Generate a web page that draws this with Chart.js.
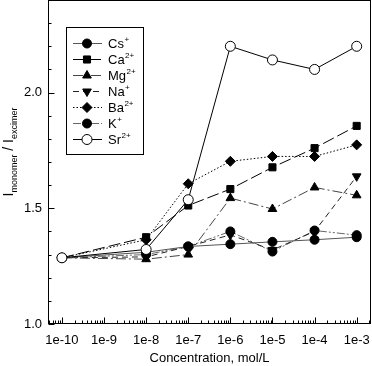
<!DOCTYPE html>
<html>
<head>
<meta charset="utf-8">
<script src="https://cdn.jsdelivr.net/npm/chart.js@4"></script>
<style>
  html, body { margin: 0; padding: 0; background: #fff; }
  #wrap { width: 372px; height: 366px; }
</style>
</head>
<body>
<div id="wrap"><canvas id="chart" width="372" height="366"></canvas></div>
<script>
// concentrations (mol/L) where the ratio was measured
const concentrations = [1e-10, 1e-8, 1e-7, 1e-6, 1e-5, 1e-4, 1e-3];
const xTickValues = [1e-10, 1e-9, 1e-8, 1e-7, 1e-6, 1e-5, 1e-4, 1e-3];
const xTickLabels = ["1e-10", "1e-9", "1e-8", "1e-7", "1e-6", "1e-5", "1e-4", "1e-3"];
const yTickLabels = ["1.0", "1.5", "2.0"];

// I monomer / I excimer for each ion
const cs = [1.286, 1.31, 1.335, 1.345, 1.355, 1.364, 1.375];
const ca = [1.286, 1.375, 1.512, 1.583, 1.677, 1.760, 1.856];
const mg = [1.286, 1.28, 1.30, 1.544, 1.497, 1.59, 1.556];
const na = [1.286, 1.29, 1.335, 1.385, 1.32, 1.40, 1.638];
const ba = [1.286, 1.364, 1.606, 1.703, 1.724, 1.724, 1.774];
const k  = [1.286, 1.30, 1.335, 1.40, 1.313, 1.404, 1.384];
const sr = [1.286, 1.322, 1.537, 2.20, 2.141, 2.10, 2.20];

const ionNames = ["Cs", "Ca", "Mg", "Na", "Ba", "K", "Sr"];
const ionCharges = ["+", "2+", "2+", "+", "2+", "+", "2+"];

const FONT = "'Liberation Sans', Arial, sans-serif";

function pts(vals) {
  return concentrations.map((c, i) => ({ x: c, y: vals[i] }));
}

function ds(label, vals, style) {
  return Object.assign({
    label: label,
    data: pts(vals),
    borderWidth: 1,
    borderColor: "#000",
    pointBackgroundColor: "#000",
    pointBorderColor: "#000",
    pointBorderWidth: 1,
    pointRadius: 4,
    fill: false,
    tension: 0,
    order: 1
  }, style);
}

const datasets = [
  ds("Cs+", cs, { borderColor: "#555", pointStyle: "circle", pointRadius: 4.5 }),
  ds("Ca2+", ca, { borderDash: [12, 4], pointStyle: "rect", pointRadius: 5 }),
  ds("Mg2+", mg, { borderColor: "#444", borderDash: [10, 3, 2, 3], pointStyle: "triangle", pointRadius: 5 }),
  ds("Na+", na, { borderColor: "#222", borderDash: [6, 4], pointStyle: "triangle", pointRotation: 180, pointRadius: 5 }),
  ds("Ba2+", ba, { borderDash: [1.5, 2], pointStyle: "rectRot", pointRadius: 5 }),
  ds("K+", k, { borderColor: "#666", borderDash: [8, 2, 2, 2, 2, 2], pointStyle: "circle", pointRadius: 4.5 }),
  ds("Sr2+", sr, { pointStyle: "circle", pointBackgroundColor: "#fff", pointRadius: 5, order: 0 })
];

// frame, inward tick marks, legend and y title
const decorations = {
  id: "decorations",
  afterDraw(chart) {
    const ctx = chart.ctx;
    const a = chart.chartArea;
    const xs = chart.scales.x;
    const ys = chart.scales.y;
    ctx.save();
    ctx.strokeStyle = "#000";
    ctx.lineWidth = 1;
    ctx.setLineDash([]);
    ctx.strokeRect(Math.round(a.left) + 0.5, Math.round(a.top) + 0.5,
      Math.round(a.right - a.left) - 1, Math.round(a.bottom - a.top) - 1);

    const bottom = Math.round(a.bottom) - 0.5;
    const left = Math.round(a.left) + 0.5;
    ctx.beginPath();
    for (let e = -11; e <= -3; e++) {
      for (let m = 1; m <= 9; m++) {
        const v = m * Math.pow(10, e);
        if (v < xs.min || v > xs.max) continue;
        const px = Math.round(xs.getPixelForValue(v)) + 0.5;
        const len = m === 1 ? 6 : 3;
        ctx.moveTo(px, bottom);
        ctx.lineTo(px, bottom - len);
      }
    }
    for (let i = 0; i <= 14; i++) {
      const v = 1 + i * 0.1;
      if (v > ys.max + 1e-9) continue;
      const py = Math.round(ys.getPixelForValue(v)) + 0.5;
      const len = i % 5 === 0 ? 6 : 3;
      ctx.moveTo(left, py);
      ctx.lineTo(left + len, py);
    }
    ctx.stroke();

    // legend
    const bx = 66.5, by = 27.5, bw = 77, bh = 127;
    ctx.fillStyle = "#fff";
    ctx.fillRect(bx, by, bw, bh);
    ctx.strokeRect(bx, by, bw, bh);
    chart.data.datasets.forEach((d, i) => {
      const y = 43.5 + i * 16;
      ctx.save();
      ctx.strokeStyle = d.borderColor;
      ctx.lineWidth = 1;
      ctx.setLineDash(d.borderDash || []);
      ctx.beginPath();
      ctx.moveTo(73, y);
      ctx.lineTo(102, y);
      ctx.stroke();
      ctx.restore();
      ctx.save();
      ctx.fillStyle = d.pointBackgroundColor;
      ctx.strokeStyle = d.pointBorderColor;
      ctx.lineWidth = 1;
      Chart.helpers.drawPoint(ctx, {
        pointStyle: d.pointStyle,
        radius: d.pointRadius,
        rotation: d.pointRotation || 0,
        borderWidth: 1
      }, 87, y);
      ctx.restore();

      ctx.fillStyle = "#000";
      ctx.textBaseline = "middle";
      ctx.textAlign = "left";
      ctx.font = "13px " + FONT;
      ctx.fillText(ionNames[i], 108, y + 1);
      const w = ctx.measureText(ionNames[i]).width;
      ctx.font = "8px " + FONT;
      ctx.fillText(ionCharges[i], 108 + w + 0.5, y - 4);
    });

    // y axis title with subscripts
    ctx.save();
    ctx.translate(13, 152);
    ctx.rotate(-Math.PI / 2);
    ctx.fillStyle = "#000";
    ctx.textBaseline = "alphabetic";
    const parts = [["I", 14, 0], ["monomer", 9, 4], [" / ", 14, 0], ["I", 14, 0], ["excimer", 9, 4]];
    let total = 0;
    parts.forEach(p => { ctx.font = p[1] + "px " + FONT; total += ctx.measureText(p[0]).width; });
    let x = -total / 2;
    ctx.textAlign = "left";
    parts.forEach(p => {
      ctx.font = p[1] + "px " + FONT;
      ctx.fillText(p[0], x, p[2]);
      x += ctx.measureText(p[0]).width;
    });
    ctx.restore();
    ctx.restore();
  }
};

new Chart(document.getElementById("chart"), {
  type: "line",
  data: { datasets: datasets },
  options: {
    responsive: false,
    animation: false,
    devicePixelRatio: 1,
    layout: { autoPadding: false, padding: { top: 0, right: 1, left: 0, bottom: 0 } },
    plugins: {
      legend: { display: false },
      tooltip: { enabled: false }
    },
    scales: {
      x: {
        type: "logarithmic",
        min: Math.pow(10, -10.33),
        max: Math.pow(10, -2.66),
        afterBuildTicks(scale) {
          scale.ticks = xTickValues.map(v => ({ value: v }));
        },
        afterFit(scale) {
          scale.height = 42;
          scale.paddingLeft = 0;
          scale.paddingRight = 0;
        },
        grid: { display: false, drawTicks: false },
        border: { display: false },
        ticks: {
          autoSkip: false,
          maxRotation: 0,
          padding: 9,
          color: "#000",
          font: { family: FONT, size: 13 },
          callback: (v) => {
            const i = xTickValues.findIndex(t => Math.abs(Math.log10(t) - Math.log10(v)) < 1e-6);
            return i >= 0 ? xTickLabels[i] : "";
          }
        },
        title: {
          display: true,
          text: "Concentration, mol/L",
          color: "#000",
          font: { family: FONT, size: 13 },
          padding: { top: 5, bottom: 0 }
        }
      },
      y: {
        type: "linear",
        min: 1.0,
        max: 2.4,
        afterBuildTicks(scale) {
          scale.ticks = [1.0, 1.5, 2.0].map(v => ({ value: v }));
        },
        afterFit(scale) {
          scale.width = 48;
          scale.paddingTop = 0;
          scale.paddingBottom = 0;
        },
        grid: { display: false, drawTicks: false },
        border: { display: false },
        ticks: {
          padding: 6,
          color: "#000",
          font: { family: FONT, size: 13 },
          callback: (v) => yTickLabels[Math.round((v - 1) * 2)]
        }
      }
    }
  },
  plugins: [decorations]
});
</script>
</body>
</html>
